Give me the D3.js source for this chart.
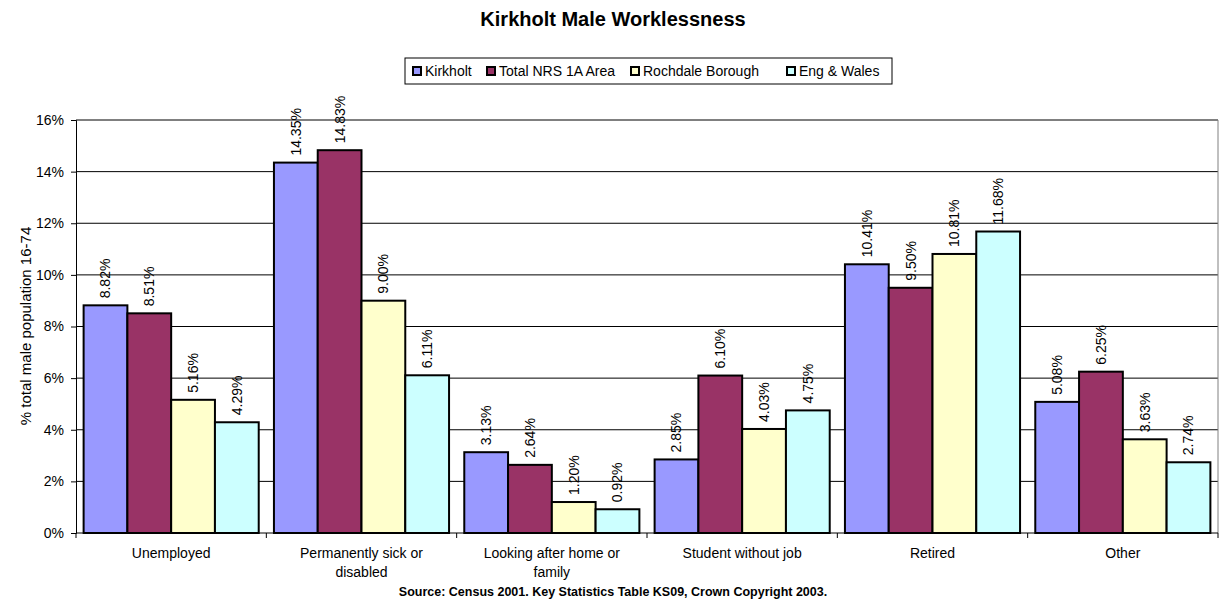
<!DOCTYPE html>
<html>
<head>
<meta charset="utf-8">
<script src="https://cdn.jsdelivr.net/npm/d3@7"></script>
<style>
  body { margin: 0; background: #fff; }
  text { font-family: Arial, "Liberation Sans", sans-serif; }
</style>
</head>
<body>
<div id="root"></div>
<script>
// chart data
const categories = ['Unemployed', 'Permanently sick or disabled', 'Looking after home or family', 'Student without job', 'Retired', 'Other'];
const categoryLines = [['Unemployed'], ['Permanently sick or', 'disabled'], ['Looking after home or', 'family'], ['Student without job'], ['Retired'], ['Other']];
const seriesNames = ['Kirkholt', 'Total NRS 1A Area', 'Rochdale Borough', 'Eng & Wales'];
const kirkholt = [8.82, 14.35, 3.13, 2.85, 10.41, 5.08];
const nrsArea = [8.51, 14.83, 2.64, 6.10, 9.50, 6.25];
const rochdale = [5.16, 9.00, 1.20, 4.03, 10.81, 3.63];
const engWales = [4.29, 6.11, 0.92, 4.75, 11.68, 2.74];
const yTicks = [0, 2, 4, 6, 8, 10, 12, 14, 16];
const colors = ['#9999FF', '#993366', '#FFFFCC', '#CCFFFF'];

const seriesValues = [kirkholt, nrsArea, rochdale, engWales];

const W = 1226, H = 608;
const plot = { left: 76, right: 1218, top: 120, bottom: 533 };

const svg = d3.select('#root').append('svg')
  .attr('width', W).attr('height', H);

const x = d3.scaleBand().domain(categories)
  .range([plot.left, plot.right]).paddingInner(0.08).paddingOuter(0.04);
const xs = d3.scaleBand().domain(seriesNames).range([0, x.bandwidth()]);
const y = d3.scaleLinear().domain([0, 16]).range([plot.bottom, plot.top]);

// title
svg.append('text').attr('x', 613).attr('y', 26).attr('text-anchor', 'middle')
  .style('font-size', '20px').style('font-weight', 'bold')
  .text('Kirkholt Male Worklessness');

// gridlines
svg.append('g').selectAll('line').data(yTicks.slice(1)).join('line')
  .attr('x1', plot.left).attr('x2', plot.right)
  .attr('y1', d => y(d)).attr('y2', d => y(d))
  .attr('stroke', '#000').attr('stroke-width', 1);

// right border
svg.append('line').attr('x1', plot.right).attr('x2', plot.right)
  .attr('y1', plot.top).attr('y2', plot.bottom)
  .attr('stroke', '#808080').attr('stroke-width', 1);

// bars
const groups = svg.append('g').selectAll('g').data(categories).join('g')
  .attr('transform', d => `translate(${x(d)},0)`);

groups.each(function (cat, ci) {
  const g = d3.select(this);
  seriesNames.forEach((s, si) => {
    const v = seriesValues[si][ci];
    g.append('rect')
      .attr('x', xs(s)).attr('width', xs.bandwidth())
      .attr('y', y(v)).attr('height', y(0) - y(v))
      .attr('fill', colors[si]).attr('stroke', '#000').attr('stroke-width', 2);
  });
});

// data labels
groups.each(function (cat, ci) {
  const g = d3.select(this);
  seriesNames.forEach((s, si) => {
    const v = seriesValues[si][ci];
    const cx = xs(s) + xs.bandwidth() / 2;
    g.append('text')
      .attr('transform', `translate(${cx},${y(v) - 7}) rotate(-90)`)
      .attr('dy', '0.35em')
      .style('font-size', '14px')
      .text(v.toFixed(2) + '%');
  });
});

// y axis
const yAxis = d3.axisLeft(y).tickValues(yTicks).tickSize(5).tickFormat(d => d + '%');
const ya = svg.append('g').attr('transform', `translate(${plot.left},0)`).call(yAxis);
ya.select('.domain').attr('stroke', '#000');
ya.selectAll('.tick line').attr('stroke', '#000');
ya.selectAll('.tick text').style('font-size', '14px').style('font-family', 'Arial, "Liberation Sans", sans-serif')
  .attr('x', -12).attr('fill', '#000');

// x axis line + ticks between categories
svg.append('line').attr('x1', plot.left).attr('x2', plot.right)
  .attr('y1', plot.bottom).attr('y2', plot.bottom).attr('stroke', '#000');
const bounds = d3.range(categories.length + 1).map(i => plot.left + (plot.right - plot.left) * i / categories.length);
svg.append('g').selectAll('line').data(bounds).join('line')
  .attr('x1', d => d).attr('x2', d => d)
  .attr('y1', plot.bottom).attr('y2', plot.bottom + 5).attr('stroke', '#000');

// category labels
svg.append('g').selectAll('text').data(categories).join('text')
  .attr('x', d => x(d) + x.bandwidth() / 2)
  .attr('y', 558)
  .attr('text-anchor', 'middle')
  .style('font-size', '14px')
  .each(function (d, i) {
    d3.select(this).selectAll('tspan').data(categoryLines[i]).join('tspan')
      .attr('x', x(d) + x.bandwidth() / 2)
      .attr('dy', (t, j) => j === 0 ? 0 : 19)
      .text(t => t);
  });

// y axis title
svg.append('text').attr('transform', 'translate(31,326) rotate(-90)')
  .attr('text-anchor', 'middle').style('font-size', '15px')
  .text('% total male population 16-74');

// legend
const legend = svg.append('g');
legend.append('rect').attr('x', 405).attr('y', 58).attr('width', 487).attr('height', 26)
  .attr('fill', '#fff').attr('stroke', '#000');
const legX = [413, 487, 631, 787];
seriesNames.forEach((s, i) => {
  legend.append('rect').attr('x', legX[i]).attr('y', 67).attr('width', 8).attr('height', 8)
    .attr('fill', colors[i]).attr('stroke', '#000').attr('stroke-width', 2);
  legend.append('text').attr('x', legX[i] + 12).attr('y', 76)
    .style('font-size', '14px').text(s);
});

// source
svg.append('text').attr('x', 613).attr('y', 596).attr('text-anchor', 'middle')
  .style('font-size', '12.5px').style('font-weight', 'bold')
  .text('Source: Census 2001. Key Statistics Table KS09, Crown Copyright 2003.');
</script>
</body>
</html>
